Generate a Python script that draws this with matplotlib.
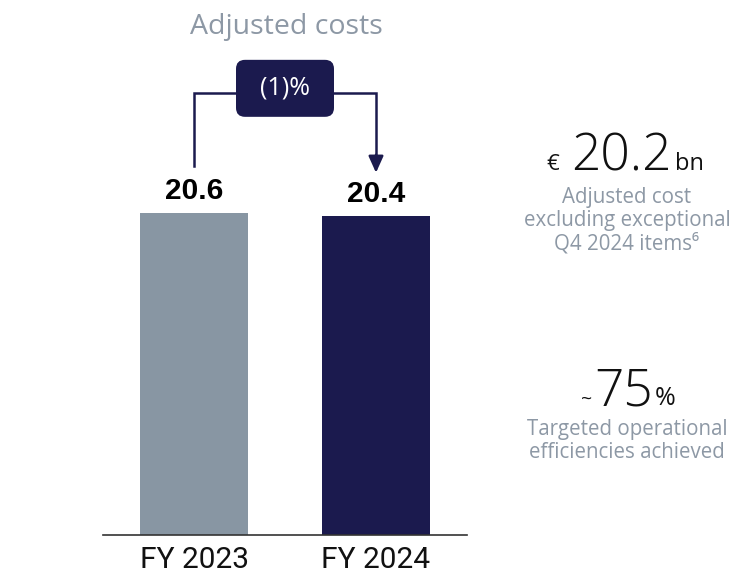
import matplotlib
matplotlib.use("Agg")
import matplotlib.pyplot as plt
from matplotlib.patches import FancyBboxPatch
import matplotlib.transforms as mtransforms

categories = ["FY 2023", "FY 2024"]
values = [20.6, 20.4]
bar_labels = ["20.6", "20.4"]
change_label = "(1)%"
title = "Adjusted costs"
kpi1_value = "20.2"
kpi1_prefix = "€"
kpi1_suffix = "bn"
kpi1_desc = ["Adjusted cost", "excluding exceptional", "Q4 2024 items⁶"]
kpi2_value = "75"
kpi2_prefix = "~"
kpi2_suffix = "%"
kpi2_desc = ["Targeted operational", "efficiencies achieved"]

W, H = 736, 569
NAVY = "#1b1a4e"
GREY_BAR = "#8896a3"
GREY_TXT = "#8d98a5"
SANS = "Open Sans"

fig = plt.figure(figsize=(W / 100, H / 100), dpi=100)

def fx(px):
    return px / W

def fy(py):
    return 1 - py / H

ymax = 30
ax_bottom_px = 534.6
ax_h_px = ymax * (322.0 / 20.6)
ax = fig.add_axes([fx(103), fy(ax_bottom_px), (467 - 103) / W, ax_h_px / H])
x = list(range(len(categories)))
ax.bar(x, values, width=0.593, color=[GREY_BAR, NAVY], zorder=2)
ax.set_xlim(-0.5, 1.5)
ax.set_ylim(0, ymax)
for s in ["top", "right", "left"]:
    ax.spines[s].set_visible(False)
ax.spines["bottom"].set_color("#333333")
ax.spines["bottom"].set_linewidth(1.2)
ax.set_yticks([])
ax.set_xticks(x)
ax.set_xticklabels(categories, fontsize=21.5, family="Roboto", color="#111111")
ax.tick_params(axis="x", length=0, pad=8)
ax.patch.set_alpha(0)

for xi, v, lab in zip(x, values, bar_labels):
    ax.text(xi, v + 0.85, lab, ha="center", va="baseline",
            fontsize=21.5, fontweight="bold", family="Liberation Sans", color="black")

y_top = 28.25
ax.plot([0, 0, 1, 1], [values[0] + 3.0, y_top, y_top, values[1] + 3.7],
        color=NAVY, lw=1.8, clip_on=False, zorder=3, solid_joinstyle="miter")
ax.annotate("", xy=(1, values[1] + 2.75), xytext=(1, values[1] + 3.9),
            arrowprops=dict(arrowstyle="-|>,head_length=1.0,head_width=0.45",
                            color=NAVY, lw=1.8, shrinkA=0, shrinkB=0),
            annotation_clip=False, zorder=3)

trans = fig.dpi_scale_trans + mtransforms.ScaledTranslation(0.5, 28.55, ax.transData)
box = FancyBboxPatch((-0.49, -0.285), 0.98, 0.57,
                     boxstyle="round,pad=0,rounding_size=0.09",
                     transform=trans, facecolor=NAVY, edgecolor="none",
                     zorder=5, clip_on=False)
ax.add_patch(box)
ax.text(0.5, 28.55, change_label, transform=ax.transData, ha="center", va="center",
        fontsize=18, color="white", family=SANS, zorder=6)

fig.text(fx(286), fy(27), title, ha="center", va="center", fontsize=20.5,
         color=GREY_TXT, family=SANS)

# KPI 1
fig.text(fx(621), fy(170), kpi1_value, ha="center", va="baseline", fontsize=37,
         family=SANS, fontweight="light", color="#111111")
fig.text(fx(559), fy(170), kpi1_prefix, ha="right", va="baseline", fontsize=16,
         family=SANS, color="#111111")
fig.text(fx(675), fy(170), kpi1_suffix, ha="left", va="baseline", fontsize=17,
         family=SANS, color="#111111")
for i, line in enumerate(kpi1_desc):
    fig.text(fx(627), fy(197 + 23.5 * i), line, ha="center", va="center",
             fontsize=14.8, family=SANS, color=GREY_TXT)

# KPI 2
fig.text(fx(624), fy(405), kpi2_value, ha="center", va="baseline", fontsize=37,
         family=SANS, fontweight="light", color="#111111")
fig.text(fx(592), fy(405), kpi2_prefix, ha="right", va="baseline", fontsize=14,
         family=SANS, color="#111111")
fig.text(fx(655), fy(405), kpi2_suffix, ha="left", va="baseline", fontsize=18,
         family=SANS, color="#111111")
for i, line in enumerate(kpi2_desc):
    fig.text(fx(627), fy(429 + 23.5 * i), line, ha="center", va="center",
             fontsize=14.8, family=SANS, color=GREY_TXT)

fig.savefig("out.png", dpi=100)
